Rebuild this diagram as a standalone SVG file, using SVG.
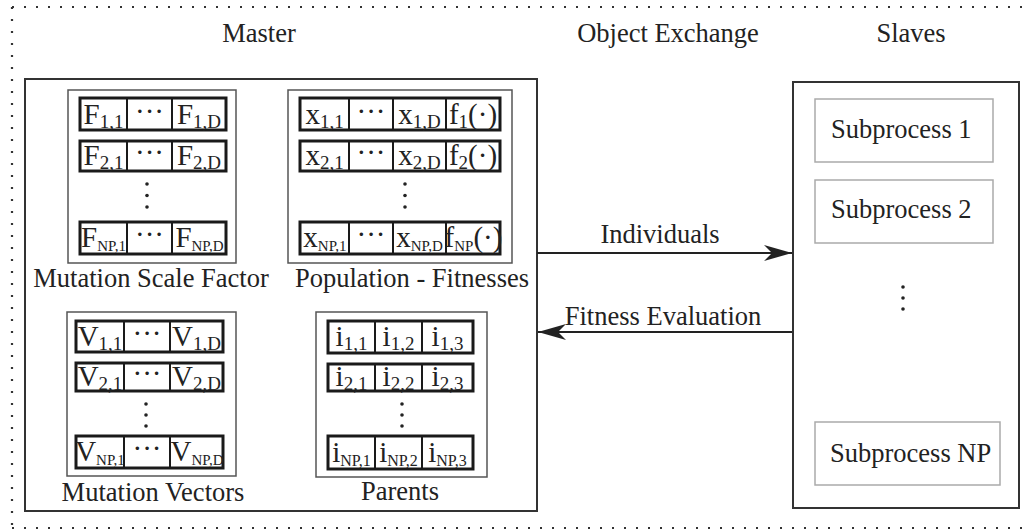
<svg xmlns="http://www.w3.org/2000/svg" width="1024" height="532" viewBox="0 0 1024 532">
<defs>
<style>
text{font-family:"Liberation Serif","Times New Roman",serif;fill:#222;}
.h{font-size:26.5px;}
.c{font-size:29px;text-anchor:middle;}
.s{font-size:19px;}
.n{font-size:15px;}
.ni{font-size:16px;}
.m{text-anchor:middle;}
.frame{fill:none;stroke:#333;stroke-width:2;}
.tbox{fill:none;stroke:#555;stroke-width:1.5;}
.row{fill:#fff;stroke:#1a1a1a;stroke-width:3;}
.div{stroke:#1a1a1a;stroke-width:2;}
.sub{fill:none;stroke:#aaa;stroke-width:1.5;}
.dot{fill:#222;}
.dotted{fill:none;stroke:#333;stroke-width:2.2;stroke-dasharray:2 10;}
.conn{stroke:#222;stroke-width:2;fill:none;}
</style>
<marker id="ah" markerUnits="userSpaceOnUse" viewBox="-29 -10 31 20" refX="0" refY="0" markerWidth="31" markerHeight="20" orient="auto">
<path d="M0,0 L-28,-8 L-20,0 L-28,8 Z" fill="#222"/>
</marker>
</defs>

<g id="border">
<line class="dotted" x1="12" y1="7" x2="1024" y2="7"/>
<line class="dotted" x1="12" y1="7" x2="12" y2="528"/>
<line class="dotted" x1="12" y1="528" x2="1024" y2="528"/>
</g>

<g id="headers">
<text class="h m" x="259" y="42">Master</text>
<text class="h m" x="668" y="42">Object Exchange</text>
<text class="h m" x="911" y="42">Slaves</text>
</g>

<g id="master">
<rect class="frame" x="25" y="79" width="512" height="432"/>
</g>

<g id="mutation-scale-factor">
<rect class="tbox" x="68" y="90" width="168" height="173"/>
<rect class="row" x="80" y="98" width="146" height="32"/>
<line class="div" x1="127" y1="98" x2="127" y2="130"/><line class="div" x1="172" y1="98" x2="172" y2="130"/>
<text class="c" x="103.5" y="124">F<tspan class="s" dy="4">1,1</tspan></text>
<text class="c" x="149.5" y="121">···</text>
<text class="c" x="199" y="124">F<tspan class="s" dy="4">1,D</tspan></text>
<rect class="row" x="80" y="141" width="146" height="30"/>
<line class="div" x1="127" y1="141" x2="127" y2="171"/><line class="div" x1="172" y1="141" x2="172" y2="171"/>
<text class="c" x="103.5" y="165">F<tspan class="s" dy="4">2,1</tspan></text>
<text class="c" x="149.5" y="162">···</text>
<text class="c" x="199" y="165">F<tspan class="s" dy="4">2,D</tspan></text>
<circle class="dot" cx="147" cy="184" r="1.8"/><circle class="dot" cx="147" cy="195.5" r="1.8"/><circle class="dot" cx="147" cy="207" r="1.8"/>
<rect class="row" x="80" y="222" width="146" height="32"/>
<line class="div" x1="127" y1="222" x2="127" y2="254"/><line class="div" x1="172" y1="222" x2="172" y2="254"/>
<text class="c" x="103.5" y="247">F<tspan class="n" dy="4">NP,1</tspan></text>
<text class="c" x="149.5" y="244">···</text>
<text class="c" x="199.5" y="247">F<tspan class="n" dy="4">NP,D</tspan></text>
<text class="h m" x="151" y="287">Mutation Scale Factor</text>
</g>

<g id="population-fitnesses">
<rect class="tbox" x="288" y="90" width="224" height="173"/>
<rect class="row" x="300" y="98" width="200" height="32"/>
<line class="div" x1="349" y1="98" x2="349" y2="130"/><line class="div" x1="393" y1="98" x2="393" y2="130"/><line class="div" x1="446" y1="98" x2="446" y2="130"/>
<text class="c" x="324.5" y="124">x<tspan class="s" dy="4">1,1</tspan></text>
<text class="c" x="371" y="121">···</text>
<text class="c" x="419.5" y="124">x<tspan class="s" dy="4">1,D</tspan></text>
<text class="c" x="473" y="124">f<tspan class="s" dy="4">1</tspan><tspan dy="-4">(·)</tspan></text>
<rect class="row" x="300" y="141" width="200" height="30"/>
<line class="div" x1="349" y1="141" x2="349" y2="171"/><line class="div" x1="393" y1="141" x2="393" y2="171"/><line class="div" x1="446" y1="141" x2="446" y2="171"/>
<text class="c" x="324.5" y="165">x<tspan class="s" dy="4">2,1</tspan></text>
<text class="c" x="371" y="162">···</text>
<text class="c" x="419.5" y="165">x<tspan class="s" dy="4">2,D</tspan></text>
<text class="c" x="473" y="165">f<tspan class="s" dy="4">2</tspan><tspan dy="-4">(·)</tspan></text>
<circle class="dot" cx="405" cy="184" r="1.8"/><circle class="dot" cx="405" cy="195.5" r="1.8"/><circle class="dot" cx="405" cy="207" r="1.8"/>
<rect class="row" x="300" y="222" width="200" height="32"/>
<line class="div" x1="349" y1="222" x2="349" y2="254"/><line class="div" x1="393" y1="222" x2="393" y2="254"/><line class="div" x1="446" y1="222" x2="446" y2="254"/>
<text class="c" x="325" y="247">x<tspan class="n" dy="4">NP,1</tspan></text>
<text class="c" x="371" y="244">···</text>
<text class="c" x="419.5" y="247">x<tspan class="n" dy="4">NP,D</tspan></text>
<text class="c" x="473.5" y="247" font-size="27">f<tspan class="n" dy="4">NP</tspan><tspan dy="-4">(·)</tspan></text>
<text class="h m" x="412" y="287">Population - Fitnesses</text>
</g>

<g id="mutation-vectors">
<rect class="tbox" x="67" y="312" width="169" height="164"/>
<rect class="row" x="76" y="321" width="147" height="31"/>
<line class="div" x1="124" y1="321" x2="124" y2="352"/><line class="div" x1="170" y1="321" x2="170" y2="352"/>
<text class="c" x="100" y="346">V<tspan class="s" dy="4">1,1</tspan></text>
<text class="c" x="147" y="343">···</text>
<text class="c" x="196.5" y="346">V<tspan class="s" dy="4">1,D</tspan></text>
<rect class="row" x="76" y="363" width="147" height="28"/>
<line class="div" x1="124" y1="363" x2="124" y2="391"/><line class="div" x1="170" y1="363" x2="170" y2="391"/>
<text class="c" x="100" y="386">V<tspan class="s" dy="4">2,1</tspan></text>
<text class="c" x="147" y="383">···</text>
<text class="c" x="196.5" y="386">V<tspan class="s" dy="4">2,D</tspan></text>
<circle class="dot" cx="146" cy="404" r="1.8"/><circle class="dot" cx="146" cy="415" r="1.8"/><circle class="dot" cx="146" cy="426" r="1.8"/>
<rect class="row" x="76" y="436" width="147" height="32"/>
<line class="div" x1="124" y1="436" x2="124" y2="468"/><line class="div" x1="170" y1="436" x2="170" y2="468"/>
<text class="c" x="100" y="461" font-size="27">V<tspan class="n" dy="4">NP,1</tspan></text>
<text class="c" x="147" y="458">···</text>
<text class="c" x="197" y="461" font-size="27">V<tspan class="n" dy="4">NP,D</tspan></text>
<text class="h m" x="153" y="501">Mutation Vectors</text>
</g>

<g id="parents">
<rect class="tbox" x="316" y="312" width="171" height="165"/>
<rect class="row" x="328" y="321" width="145" height="32"/>
<line class="div" x1="375" y1="321" x2="375" y2="353"/><line class="div" x1="422" y1="321" x2="422" y2="353"/>
<text class="c" x="351.5" y="346">i<tspan class="s" dy="4">1,1</tspan></text>
<text class="c" x="398.5" y="346">i<tspan class="s" dy="4">1,2</tspan></text>
<text class="c" x="447.5" y="346">i<tspan class="s" dy="4">1,3</tspan></text>
<rect class="row" x="328" y="364" width="145" height="27"/>
<line class="div" x1="375" y1="364" x2="375" y2="391"/><line class="div" x1="422" y1="364" x2="422" y2="391"/>
<text class="c" x="351.5" y="386">i<tspan class="s" dy="4">2,1</tspan></text>
<text class="c" x="398.5" y="386">i<tspan class="s" dy="4">2,2</tspan></text>
<text class="c" x="447.5" y="386">i<tspan class="s" dy="4">2,3</tspan></text>
<circle class="dot" cx="402" cy="404" r="1.8"/><circle class="dot" cx="402" cy="415" r="1.8"/><circle class="dot" cx="402" cy="426" r="1.8"/>
<rect class="row" x="328" y="436" width="145" height="33"/>
<line class="div" x1="375" y1="436" x2="375" y2="469"/><line class="div" x1="422" y1="436" x2="422" y2="469"/>
<text class="c" x="351.5" y="462">i<tspan class="ni" dy="4">NP,1</tspan></text>
<text class="c" x="398.5" y="462">i<tspan class="ni" dy="4">NP,2</tspan></text>
<text class="c" x="447.5" y="462">i<tspan class="ni" dy="4">NP,3</tspan></text>
<text class="h m" x="400" y="500">Parents</text>
</g>

<g id="slaves">
<rect class="frame" x="793" y="82" width="226" height="426"/>
</g>
<g id="subprocess-1">
<rect class="sub" x="815" y="99" width="178" height="63"/>
<text class="h" x="831" y="138">Subprocess 1</text>
</g>
<g id="subprocess-2">
<rect class="sub" x="815" y="180" width="178" height="63"/>
<text class="h" x="831" y="218">Subprocess 2</text>
</g>
<g id="slave-dots">
<circle class="dot" cx="903" cy="287" r="1.8"/><circle class="dot" cx="903" cy="298" r="1.8"/><circle class="dot" cx="903" cy="309" r="1.8"/>
</g>
<g id="subprocess-np">
<rect class="sub" x="815" y="422" width="185" height="63"/>
<text class="h" x="830" y="462">Subprocess NP</text>
</g>

<g id="connectors">
<line class="conn" x1="537" y1="253" x2="792" y2="253" marker-end="url(#ah)"/>
<text class="h m" x="660" y="243">Individuals</text>
<line class="conn" x1="792" y1="332" x2="538" y2="332" marker-end="url(#ah)"/>
<text class="h m" x="663" y="325">Fitness Evaluation</text>
</g>
</svg>
